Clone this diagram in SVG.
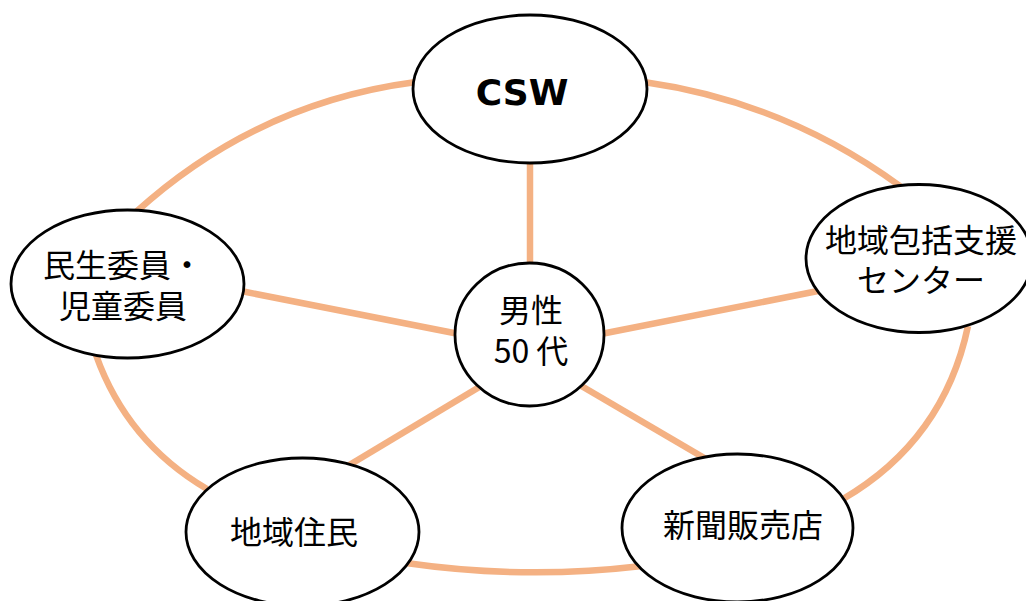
<svg xmlns="http://www.w3.org/2000/svg" width="1026" height="601" viewBox="0 0 1026 601">
<style>
.c{fill:none;stroke:#F4B183;stroke-width:6.5;stroke-linecap:butt}
.n{fill:#fff;stroke:#000;stroke-width:2.8}
.t{font-family:"Noto Sans CJK JP","Noto Sans",sans-serif;font-size:32px;fill:#000;text-anchor:middle}
.b{font-family:"DejaVu Sans","Noto Sans",sans-serif;font-size:36px;font-weight:bold;fill:#000;text-anchor:middle}
</style>
<rect width="1026" height="601" fill="#fff"/>
<g id="connectors">
<path class="c" d="M416,82 Q256,103 136,212"/>
<path class="c" d="M644,82 Q785,102 900,186"/>
<path class="c" d="M968,326 Q944,440 843,499"/>
<path class="c" d="M642,566 Q524,580 406,563"/>
<path class="c" d="M207,489 Q127,442 96,355"/>
<line class="c" x1="530" y1="160" x2="530" y2="266"/>
<line class="c" x1="241" y1="291" x2="459" y2="334"/>
<line class="c" x1="601" y1="334" x2="818" y2="291"/>
<line class="c" x1="481" y1="386" x2="346" y2="467"/>
<line class="c" x1="578" y1="384" x2="706" y2="459"/>
</g>
<g id="csw"><ellipse class="n" cx="530" cy="89" rx="117" ry="74"/><text class="b" x="522" y="105">CSW</text></g>
<g id="houkatsu"><ellipse class="n" cx="919" cy="258.5" rx="113" ry="74"/><text class="t" x="921" y="252">地域包括支援</text><text class="t" x="921" y="292">センター</text></g>
<g id="minsei"><ellipse class="n" cx="127.5" cy="284" rx="116.5" ry="74"/><text class="t" x="123" y="277">民生委員・</text><text class="t" x="123" y="318">児童委員</text></g>
<g id="center"><ellipse class="n" cx="529.5" cy="334.5" rx="74.5" ry="71.5"/><text class="t" x="531" y="322">男性</text><text class="t" x="531" y="363">50 代</text></g>
<g id="juumin"><ellipse class="n" cx="302.5" cy="532" rx="116.5" ry="74"/><text class="t" x="294" y="544">地域住民</text></g>
<g id="shinbun"><ellipse class="n" cx="737.5" cy="528" rx="115.5" ry="74"/><text class="t" x="743" y="537">新聞販売店</text></g>
</svg>
